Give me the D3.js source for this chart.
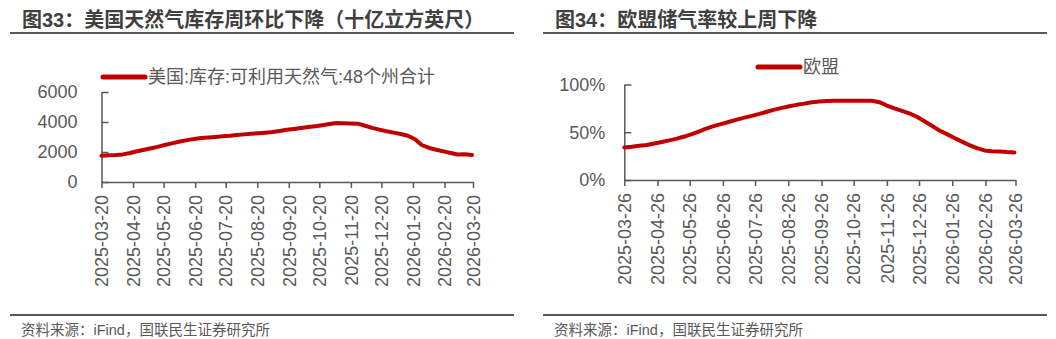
<!DOCTYPE html>
<html><head><meta charset="utf-8">
<script src="https://cdn.jsdelivr.net/npm/d3@7"></script>
<style>
body{margin:0;background:#fff}
svg{display:block}
text{font-family:"Liberation Sans","Noto Sans CJK SC",sans-serif}
</style>
</head><body><svg id="c" width="1056" height="339"></svg>
<script>
// ---- Data ----
const usDates = ["2025-03-20","2025-03-27","2025-04-03","2025-04-10","2025-04-17","2025-04-24","2025-05-01","2025-05-08","2025-05-15","2025-05-22","2025-05-29","2025-06-05","2025-06-12","2025-06-19","2025-06-26","2025-07-03","2025-07-10","2025-07-17","2025-07-24","2025-07-31","2025-08-07","2025-08-14","2025-08-21","2025-08-28","2025-09-04","2025-09-11","2025-09-18","2025-09-25","2025-10-02","2025-10-09","2025-10-16","2025-10-23","2025-10-30","2025-11-06","2025-11-13","2025-11-20","2025-11-27","2025-12-04","2025-12-11","2025-12-18","2025-12-25","2026-01-01","2026-01-08","2026-01-15","2026-01-22","2026-01-29","2026-02-05","2026-02-12","2026-02-19","2026-02-26","2026-03-05","2026-03-12","2026-03-19"];
const usStorage = [1753,1780,1800,1840,1930,2050,2150,2250,2360,2480,2590,2700,2790,2870,2930,2970,3005,3045,3080,3130,3175,3215,3250,3290,3330,3400,3480,3540,3600,3660,3720,3790,3860,3930,3915,3900,3890,3750,3610,3490,3380,3290,3200,3080,2850,2450,2270,2150,2040,1930,1830,1850,1800];
const usTicks = ["2025-03-20","2025-04-20","2025-05-20","2025-06-20","2025-07-20","2025-08-20","2025-09-20","2025-10-20","2025-11-20","2025-12-20","2026-01-20","2026-02-20","2026-03-20"];
const usYTicks = [0,2000,4000,6000];

const euDates = ["2025-03-26","2025-04-02","2025-04-09","2025-04-16","2025-04-23","2025-04-30","2025-05-07","2025-05-14","2025-05-21","2025-05-28","2025-06-04","2025-06-11","2025-06-18","2025-06-25","2025-07-02","2025-07-09","2025-07-16","2025-07-23","2025-07-30","2025-08-06","2025-08-13","2025-08-20","2025-08-27","2025-09-03","2025-09-10","2025-09-17","2025-09-24","2025-10-01","2025-10-08","2025-10-15","2025-10-22","2025-10-29","2025-11-05","2025-11-12","2025-11-19","2025-11-26","2025-12-03","2025-12-10","2025-12-17","2025-12-24","2025-12-31","2026-01-07","2026-01-14","2026-01-21","2026-01-28","2026-02-04","2026-02-11","2026-02-18","2026-02-25","2026-03-04","2026-03-11","2026-03-18","2026-03-25"];
const euFill = [34.0,34.8,35.8,36.6,38.2,39.8,41.5,43.3,45.5,48.0,51.0,54.0,56.6,58.8,61.0,63.2,65.3,67.2,69.2,71.5,73.7,75.5,77.2,78.7,80.0,81.5,82.3,82.7,83.0,83.1,83.1,83.0,83.0,82.9,81.5,78.0,75.0,72.4,69.7,66.2,61.5,56.8,51.9,48.0,44.0,40.2,36.5,33.3,31.0,30.2,29.8,29.2,28.8];
const euTicks = ["2025-03-26","2025-04-26","2025-05-26","2025-06-26","2025-07-26","2025-08-26","2025-09-26","2025-10-26","2025-11-26","2025-12-26","2026-01-26","2026-02-26","2026-03-26"];
const euYTicks = [0,50,100];

const titles = ["图33：美国天然气库存周环比下降（十亿立方英尺）","图34：欧盟储气率较上周下降"];
const legends = ["美国:库存:可利用天然气:48个州合计","欧盟"];
const sourceText = "资料来源：iFind，国联民生证券研究所";

// ---- Drawing ----
const svg = d3.select("#c");
const parse = d3.timeParse("%Y-%m-%d");
const fmt = d3.timeFormat("%Y-%m-%d");
const RED = "#C00000", GREY = "#595959";

function panel(o){
  const g = svg.append("g");
  g.append("text").attr("x", o.titleX).attr("y", 27).attr("font-size", 20).attr("font-weight", "bold")
    .attr("fill", "#404040").text(o.title);
  g.append("line").attr("x1", o.px0).attr("x2", o.px1).attr("y1", 33).attr("y2", 33)
    .attr("stroke", GREY).attr("stroke-width", 2);
  g.append("line").attr("x1", o.px0).attr("x2", o.px1).attr("y1", 315).attr("y2", 315)
    .attr("stroke", GREY).attr("stroke-width", 2);
  g.append("text").attr("x", o.px0 + 11).attr("y", 335).attr("font-size", 14.5).attr("fill", GREY).text(sourceText);

  const x = d3.scaleTime().domain([parse(o.ticks[0]), parse(o.ticks[o.ticks.length-1])]).range([o.x0, o.x1]);
  const y = d3.scaleLinear().domain(o.yDomain).range([o.y0, o.y1]);

  const xa = g.append("g").attr("transform", `translate(0,${o.y0})`)
    .call(d3.axisBottom(x).tickValues(o.ticks.map(parse)).tickFormat(fmt).tickSize(6).tickSizeOuter(0));
  xa.select(".domain").attr("stroke", GREY).attr("stroke-width", 1.5);
  xa.selectAll(".tick line").attr("stroke", GREY).attr("stroke-width", 1.5);
  xa.selectAll(".tick text").attr("font-size", 18).attr("fill", GREY)
    .attr("font-family", '"Liberation Sans","Noto Sans CJK SC",sans-serif')
    .attr("transform", "rotate(-90)").attr("text-anchor", "end")
    .attr("x", -13).attr("y", 0).attr("dy", "0.35em");

  const ya = g.append("g").attr("transform", `translate(${o.x0},0)`)
    .call(d3.axisLeft(y).tickValues(o.yTicks).tickFormat(o.yFmt).tickSize(-7).tickSizeOuter(0));
  ya.select(".domain").attr("stroke", GREY).attr("stroke-width", 1.5);
  ya.selectAll(".tick line").attr("stroke", GREY).attr("stroke-width", 1.5);
  ya.selectAll(".tick text").attr("font-size", 18).attr("fill", GREY)
    .attr("font-family", '"Liberation Sans","Noto Sans CJK SC",sans-serif')
    .attr("x", -o.yLabelGap);

  const data = o.dates.map((d,i) => ({d: parse(d), v: o.values[i]}));
  g.append("path").datum(data).attr("fill", "none").attr("stroke", RED).attr("stroke-width", 4)
    .attr("stroke-linejoin", "round").attr("stroke-linecap", "round")
    .attr("d", d3.line().x(p => x(p.d)).y(p => y(p.v)));

  g.append("line").attr("x1", o.legX).attr("x2", o.legX + 42).attr("y1", o.legY).attr("y2", o.legY)
    .attr("stroke", RED).attr("stroke-width", 5).attr("stroke-linecap", "round");
  g.append("text").attr("x", o.legX + 45).attr("y", o.legY).attr("dy", "0.35em").attr("font-size", 18)
    .attr("fill", GREY).text(o.legend);
}

panel({title: titles[0], titleX: 22, px0: 10, px1: 514,
  ticks: usTicks, x0: 101.5, x1: 473, y0: 182, y1: 92, yDomain: [0, 6000], yTicks: usYTicks,
  yFmt: d => d, yLabelGap: 24, dates: usDates, values: usStorage, legend: legends[0], legX: 103, legY: 77});
panel({title: titles[1], titleX: 555, px0: 543, px1: 1047,
  ticks: euTicks, x0: 624.3, x1: 1015.5, y0: 180, y1: 84.5, yDomain: [0, 100], yTicks: euYTicks,
  yFmt: d => d + "%", yLabelGap: 19, dates: euDates, values: euFill, legend: legends[1], legX: 758, legY: 67});
</script>
</body></html>
